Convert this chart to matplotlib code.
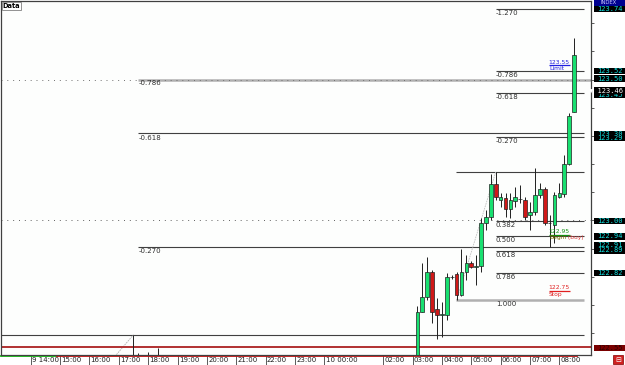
import matplotlib
matplotlib.use('Agg')
import matplotlib.pyplot as plt
import matplotlib.transforms as mtransforms
from matplotlib.patches import Rectangle
import numpy as np

# ---- data (10 minute bars) ----
bar_time = ['17:30', '17:40', '18:00', '18:20',
            '03:10', '03:20', '03:30', '03:40', '03:50', '04:00', '04:10', '04:20',
            '04:30', '04:40', '04:50', '05:00', '05:10', '05:20', '05:30', '05:40',
            '05:50', '06:00', '06:10', '06:20', '06:30', '06:40', '06:50', '07:00',
            '07:10', '07:20', '07:30', '07:40', '07:50', '08:00', '08:10', '08:20', '08:30']
opens = [122.42, 122.47, 122.44, 122.48,
         122.470, 122.677, 122.728, 122.816, 122.685, 122.665, 122.665, 122.799,
         122.809, 122.736, 122.817, 122.848, 122.836, 122.837, 122.990, 123.011,
         123.129, 123.072, 123.079, 123.040, 123.070, 123.076, 123.073, 123.020,
         123.031, 123.090, 123.111, 122.990, 122.984, 123.085, 123.094, 123.200, 123.386]
highs = [122.595, 122.530, 122.535, 122.548,
         122.697, 122.848, 122.872, 122.824, 122.725, 122.712, 122.814, 122.808,
         122.817, 122.899, 122.878, 122.855, 122.878, 123.009, 123.037, 123.165,
         123.172, 123.098, 123.096, 123.098, 123.120, 123.126, 123.084, 123.067,
         123.185, 123.132, 123.120, 123.020, 123.102, 123.133, 123.232, 123.381, 123.646]
lows = [122.38, 122.43, 122.40, 122.44,
        122.440, 122.676, 122.718, 122.635, 122.579, 122.588, 122.647, 122.792,
        122.717, 122.732, 122.789, 122.830, 122.771, 122.818, 122.966, 123.002,
        123.073, 123.049, 123.013, 123.009, 123.049, 123.061, 123.002, 122.966,
        123.020, 123.079, 122.984, 122.907, 122.919, 123.079, 123.084, 123.197, 123.384]
closes = [122.47, 122.45, 122.50, 122.46,
          122.677, 122.728, 122.816, 122.677, 122.665, 122.668, 122.799, 122.800,
          122.736, 122.817, 122.848, 122.836, 122.837, 122.990, 123.011, 123.129,
          123.082, 123.082, 123.040, 123.073, 123.082, 123.077, 123.011, 123.031,
          123.090, 123.111, 122.990, 122.992, 123.090, 123.097, 123.200, 123.372, 123.587]

# fibonacci retracements (high, low, start time of levels)
long_fib = dict(high=122.595, low=121.44, start='17:40', anchor_low='08:00', anchor_high='17:30')
short_fib = dict(high=123.172, low=122.717, start='05:50', anchor_low='04:30', anchor_high='05:50')
long_levels = [-0.786, -0.618, -0.270]
short_levels = [-1.270, -0.786, -0.618, -0.270, 0.382, 0.500, 0.618, 0.786]
fib_end = '08:50'

# pending orders
order_prices = [123.55, 122.95, 122.75]
order_names = ['Limit', 'Begin', 'Stop']
order_colors = ['#2020e0', '#109010', '#e02020']

# right axis price tags (a tag partly hidden by a later one is drawn first)
tag_text = ['123.74', '123.52', '123.50', '123.45', '\u25bc 123.46', '123.30', '123.29',
            '123.00', '122.94', '122.91', '122.89', '122.82', '122.55']
tag_price = [123.750, 123.530, 123.503, 123.446, 123.461, 123.307, 123.293,
             122.998, 122.944, 122.913, 122.894, 122.814, 122.548]

tick_text = ['9 14:00', '15:00', '16:00', '17:00', '18:00', '19:00', '20:00', '21:00',
             '22:00', '23:00', '10 00:00', '02:00', '03:00', '04:00', '05:00', '06:00',
             '07:00', '08:00']
tick_time = ['14:00', '15:00', '16:00', '17:00', '18:00', '19:00', '20:00', '21:00',
             '22:00', '23:00', '00:00', '02:00', '03:00', '04:00', '05:00', '06:00',
             '07:00', '08:00']


def to_t(hhmm, prev_day=False):
    # hours since 9 14:00; times before 14:00 are on day 10 unless prev_day
    h, m = hhmm.split(':')
    t = int(h) + int(m) / 60 - 14
    if t < 0 and not prev_day:
        t += 24
    return t


W, H = 625, 365
fig = plt.figure(figsize=(6.25, 3.65), dpi=100)
fig.patch.set_facecolor('white')
ax = fig.add_axes([1 / W, 1 - 354.5 / H, 590 / W, 353.5 / H])
ax.set_facecolor('#fdfefd')
XL = (-1.011, 19.077)
ax.set_xlim(*XL)
ax.set_ylim(122.5248, 123.7784)
for s in ax.spines.values():
    s.set_color('#404040')
    s.set_linewidth(0.9)

FS = 5
dark = '#404040'
t_bars = np.array([to_t(s) for s in bar_time])
t_end = to_t(fib_end)

# grid of dots at hours x 0.10
gx, gy = np.meshgrid(np.arange(0, 19), np.arange(122.6, 123.75, 0.1))
ax.scatter(gx.ravel(), gy.ravel(), s=0.4, marker='s', color='#a0a0a0', lw=0, zorder=1)

# dotted round-number lines and gray horizontal line
ax.axhline(123.00, color='#606060', lw=0.7, ls=(0, (1, 5)), zorder=2)
ax.hlines(123.50, to_t('17:40'), XL[1], color='#b0b0b0', lw=1.8, zorder=2)
ax.axhline(123.50, color='#707070', lw=0.7, ls=(0, (1, 5)), zorder=2)

# long fibonacci
R = long_fib['high'] - long_fib['low']
ts = to_t(long_fib['start'])
for lv in long_levels:
    p = long_fib['high'] - lv * R
    if lv != -0.786:
        ax.hlines(p, ts, t_end, color=dark, lw=0.8, zorder=2)
    ax.text(ts, p - 0.004, f'{lv:.3f}', fontsize=FS, color='#303030', va='top', ha='left', zorder=3)
ax.hlines(long_fib['high'], XL[0], t_end, color=dark, lw=0.8, zorder=2)
ax.plot([to_t(long_fib['anchor_low'], prev_day=True), to_t(long_fib['anchor_high'])],
        [long_fib['low'], long_fib['high']], color='#b0b0b0', lw=0.6, ls=(0, (2, 1)), zorder=2)

# short fibonacci
R = short_fib['high'] - short_fib['low']
ts = to_t(short_fib['start'])
t0 = to_t(short_fib['anchor_low'])
for lv in short_levels:
    p = short_fib['high'] - lv * R
    ax.hlines(p, ts, t_end, color=dark, lw=0.8, zorder=2)
    ax.text(ts, p - 0.004, f'{lv:.3f}', fontsize=FS, color='#303030', va='top', ha='left', zorder=3)
ax.hlines(short_fib['high'], t0 - 0.03, t_end, color=dark, lw=0.8, zorder=2)
ax.hlines(short_fib['low'], t0 - 0.03, t_end, color='#b0b0b0', lw=1.8, zorder=2)
ax.text(ts, short_fib['low'] - 0.004, '1.000', fontsize=FS, color='#303030', va='top', ha='left', zorder=3)
ax.plot([t0, to_t(short_fib['anchor_high'])], [short_fib['low'], short_fib['high']],
        color='#c0c0c0', lw=0.6, ls=(0, (2, 1)), zorder=2)

# red horizontal line
ax.axhline(122.55, color='#b03030', lw=1.4, zorder=2)

# candles
for t, o, h, l, c in zip(t_bars, opens, highs, lows, closes):
    ax.vlines(t, l, h, color='#202020', lw=0.7, zorder=4)
    col = '#18e070' if c >= o else '#d01818'
    ax.bar(t, max(abs(c - o), 0.002), bottom=min(o, c), width=0.125, color=col,
           edgecolor='#202020', lw=0.5, zorder=5)

# pending order marks
t_a, t_b = to_t('07:40') - 0.02, to_t('08:20') + 0.02
for p, name, col in zip(order_prices, order_names, order_colors):
    ax.hlines(p, t_a, t_b, color=col, lw=0.9, zorder=6)
    ax.text(t_b, p + 0.002, f'{p:.2f}', fontsize=4.3, color=col, ha='right', va='bottom', zorder=6)
    nt = ax.text(t_a, p - 0.003, name, fontsize=4.3, color=col if name != 'Begin' else '#7a6a00',
                 ha='left', va='top', zorder=6)
    if name == 'Begin':
        ax.annotate(' (buy)', xy=(1, 0), xycoords=nt, fontsize=4.3, color='#e04040',
                    ha='left', va='bottom', zorder=6, annotation_clip=False)

# axes ticks
ax.set_yticks(np.arange(122.6, 123.75, 0.1))
ax.yaxis.tick_right()
ax.tick_params(axis='y', length=2.5, width=0.6, color=dark, labelright=False)
tick_t = [to_t(s) for s in tick_time]
ax.set_xticks(tick_t)
ax.set_xticklabels([])
ax.tick_params(axis='x', direction='out', length=7, width=0.6, color=dark)
xtr = mtransforms.blended_transform_factory(ax.transData, ax.transAxes)
for t, s in zip(tick_t, tick_text):
    ax.text(t + 0.04, -0.007, s, fontsize=FS, color='#202020', ha='left', va='top',
            transform=xtr, clip_on=False)

# colored strip under the plot
ax.plot([XL[0], 0.9], [-0.004, -0.004], color='#10c010', lw=1.3, transform=xtr, clip_on=False)
ax.plot([0.9, 18.6], [-0.004, -0.004], color='#d01010', lw=1.3, transform=xtr, clip_on=False)

# "Data" box
ax.text(0.003, 0.995, 'Data', transform=ax.transAxes, fontsize=4.8, fontweight='bold',
        ha='left', va='top', bbox=dict(boxstyle='square,pad=0.15', fc='white', ec='#808080', lw=0.6))

# right side price tags
ytr = mtransforms.blended_transform_factory(fig.transFigure, ax.transData)
hh = 6.5 / 282
for k, (s, p) in enumerate(zip(tag_text, tag_price)):
    if s == '122.55':
        bg, fg = '#7a0000', '#300000'
    elif s.startswith('\u25bc'):
        bg, fg = '#000000', '#ffffff'
    else:
        bg, fg = '#000000', '#10e0e0'
    fig.patches.append(Rectangle((594 / W, p - hh / 2), 31 / W, hh, transform=ytr,
                                 facecolor=bg, edgecolor='none', zorder=10 + 2 * k))
    txt = fig.text(623 / W, p, s, transform=ytr, fontsize=FS, color=fg, ha='right', va='center',
                   family='DejaVu Sans Mono', zorder=11 + 2 * k)
    # clip a tag that is covered by the next one to its visible strip
    if k + 1 < len(tag_price) and abs(tag_price[k + 1] - p) < hh:
        q = tag_price[k + 1]
        if q < p:
            lo, hi = q + hh / 2, p + hh / 2
        else:
            lo, hi = p - hh / 2, q - hh / 2
        clip = Rectangle((594 / W, lo), 31 / W, hi - lo, transform=ytr)
        txt.set_clip_path(clip)

# INDEX header
fig.patches.append(Rectangle((594 / W, 1 - 5.5 / H), 31 / W, 5.5 / H, transform=fig.transFigure,
                             facecolor='#000090', edgecolor='none'))
fig.text(609 / W, 1 - 2.7 / H, 'INDEX', fontsize=3.8, color='#c8c8ff', ha='center', va='center')

# small button at bottom right
fig.patches.append(Rectangle((613 / W, 1 - 364 / H), 10 / W, 9 / H, transform=fig.transFigure,
                             facecolor='#d02020', edgecolor='#800000', lw=0.5))
fig.text(618 / W, 1 - 359.5 / H, '\u229f', fontsize=5, color='white', ha='center', va='center')

fig.savefig('out.png', dpi=100)
